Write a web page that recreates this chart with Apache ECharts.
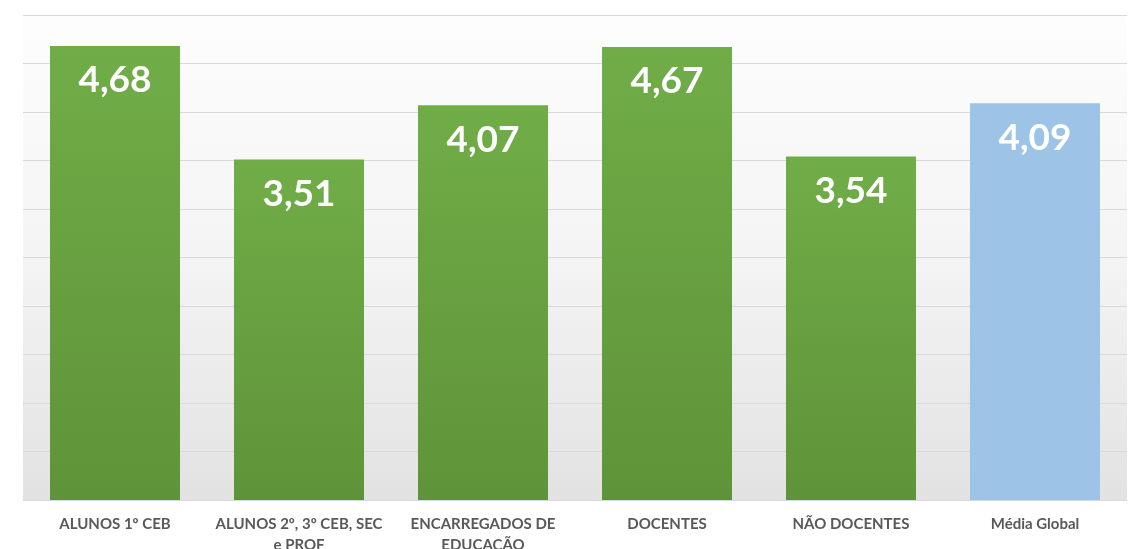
<!DOCTYPE html>
<html>
<head>
<meta charset="utf-8">
<script src="https://cdn.jsdelivr.net/npm/echarts@6/dist/echarts.min.js"></script>
<style>
  html, body { margin: 0; padding: 0; background: #fff; }
  #chart { width: 1130px; height: 549px; }
</style>
</head>
<body>
<div id="chart"></div>
<script>
// dados do gráfico
const categories = [
  "ALUNOS 1º CEB",
  "ALUNOS 2º, 3º CEB, SEC\ne PROF",
  "ENCARREGADOS DE\nEDUCAÇÃO",
  "DOCENTES",
  "NÃO DOCENTES",
  "Média Global"
];
const values = [4.68, 3.51, 4.07, 4.67, 3.54, 4.09];
const highlightIndex = 5; // média global em azul

const green = new echarts.graphic.LinearGradient(0, 0, 0, 1, [
  { offset: 0, color: "#70ad47" },
  { offset: 1, color: "#5f9339" }
]);
const blue = "#9dc3e6";

const chart = echarts.init(document.getElementById("chart"));
chart.setOption({
  animation: false,
  backgroundColor: "#ffffff",
  grid: {
    left: 23,
    right: 3,
    top: 15,
    bottom: 49,
    outerBoundsMode: "none",
    show: true,
    borderWidth: 0,
    backgroundColor: new echarts.graphic.LinearGradient(0, 0, 0, 1, [
      { offset: 0, color: "#fdfdfd" },
      { offset: 0.5, color: "#f4f4f4" },
      { offset: 1, color: "#e2e2e2" }
    ])
  },
  xAxis: {
    type: "category",
    data: categories,
    axisTick: { show: false },
    axisLine: { lineStyle: { color: "#d9d9d9", width: 1 } },
    axisLabel: {
      interval: 0,
      color: "#595959",
      fontFamily: "Lato",
      fontWeight: "bold",
      fontSize: 15,
      lineHeight: 21,
      margin: 14
    }
  },
  yAxis: {
    type: "value",
    min: 0,
    max: 5,
    interval: 0.5,
    axisLabel: { show: false },
    axisLine: { show: false },
    axisTick: { show: false },
    splitLine: { lineStyle: { color: "#d9d9d9", width: 1 } }
  },
  series: [{
    type: "bar",
    barWidth: 130,
    data: values.map((v, i) => ({
      value: v,
      itemStyle: { color: i === highlightIndex ? blue : green }
    })),
    label: {
      show: true,
      position: "insideTop",
      distance: 16,
      color: "#ffffff",
      fontFamily: "Lato",
      fontWeight: "bold",
      fontSize: 37,
      formatter: p => p.value.toFixed(2).replace(".", ",")
    }
  }]
});
</script>
</body>
</html>
